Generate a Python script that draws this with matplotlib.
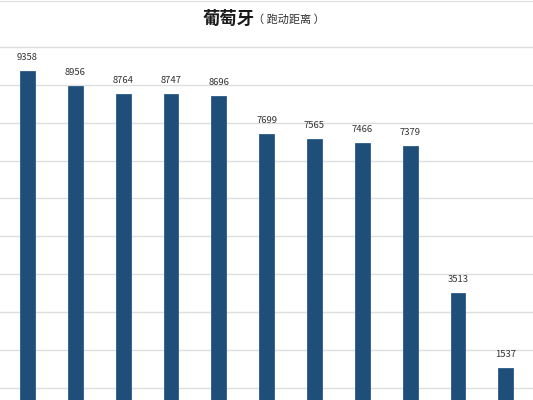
import numpy as np
import matplotlib
matplotlib.use('Agg')
import matplotlib.pyplot as plt

plt.rcParams['font.family'] = ['Noto Sans CJK SC', 'DejaVu Sans']

# running distance per player (labels cut off in the source image)
players = [f'P{i}' for i in range(1, 12)]
distance = [9358, 8956, 8764, 8747, 8696, 7699, 7565, 7466, 7379, 3513, 1537]
grid_vals = np.arange(1000, 11000, 1000)

fig = plt.figure(figsize=(5.33, 4), dpi=100)
ax = fig.add_axes([0, 0, 1, 0.9975])

x = np.arange(len(players))
ax.bar(x, distance, width=0.31, color='#1f4e79', edgecolor='#2a5a88', linewidth=0.6, zorder=3)

for xi, v in zip(x, distance):
    ax.annotate(str(v), (xi, v), xytext=(0, 9), textcoords='offset pixels',
                ha='center', va='bottom', fontsize=6.8, color='#333333')

ax.set_xlim(-0.575, 10.57)
ax.set_ylim(684, 11210)
ax.set_yticks(grid_vals)
ax.grid(axis='y', color='#dedede', linewidth=1, zorder=0)
ax.tick_params(left=False, bottom=False, labelleft=False, labelbottom=False)
for s in ['left', 'right', 'bottom']:
    ax.spines[s].set_visible(False)
ax.spines['top'].set_color('#dedede')

fig.text(0.381, 0.952, '葡萄牙', fontsize=12.5, fontweight='bold', color='#1a1a1a',
         ha='left', va='center')
fig.text(0.474, 0.950, '（ 跑动距离 ）', fontsize=8, color='#333333',
         ha='left', va='center')

plt.savefig('out.png', dpi=100)
